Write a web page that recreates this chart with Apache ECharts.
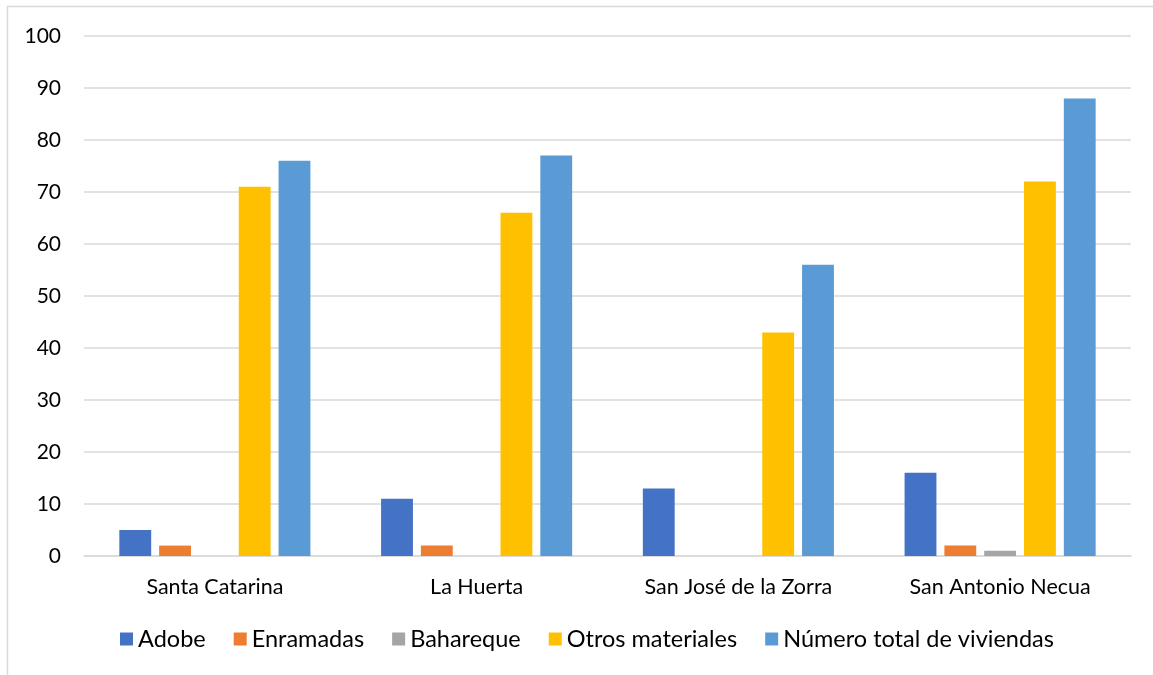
<!DOCTYPE html>
<html lang="es">
<head>
    <meta charset="UTF-8">
    <title>Viviendas por material</title>
    <script type="text/javascript" src="https://cdn.jsdelivr.net/npm/echarts@6/dist/echarts.min.js"></script>
    <style>
        html, body { margin: 0; padding: 0; background: #fff; }
        #main { width: 1153px; height: 675px; }
    </style>
</head>
<body>
<div id="main"></div>
<script>
    // datos
    var localidades = ['Santa Catarina', 'La Huerta', 'San José de la Zorra', 'San Antonio Necua'];
    var adobe = [5, 11, 13, 16];
    var enramadas = [2, 2, 0, 2];
    var bahareque = [0, 0, 0, 1];
    var otros = [71, 66, 43, 72];
    var total = [76, 77, 56, 88];

    var fuente = 'Lato, "Open Sans", sans-serif';
    var myChart = echarts.init(document.getElementById('main'));

    function serie(nombre, datos, color) {
        return {
            name: nombre,
            type: 'bar',
            data: datos,
            barGap: '25%',
            barCategoryGap: '27%',
            itemStyle: { color: color },
            emphasis: { disabled: true }
        };
    }

    var option = {
        animation: false,
        textStyle: { fontFamily: fuente },
        graphic: [{
            type: 'rect',
            shape: { x: 7.5, y: 6.5, width: 1160, height: 700 },
            style: { fill: 'none', stroke: '#d9d9d9', lineWidth: 1.5 },
            silent: true
        }],
        grid: {       // area del grafico
            left: 84,
            right: 22,
            top: 36,
            bottom: 119
        },
        legend: {
            bottom: 19,
            left: 115,
            itemWidth: 13,
            itemHeight: 13,
            itemGap: 28,
            itemTextGap: 6,
            icon: 'rect',
            textStyle: { fontFamily: fuente, fontSize: 23.5, color: '#000' },
            data: ['Adobe', 'Enramadas', 'Bahareque', 'Otros materiales', 'Número total de viviendas']
        },
        xAxis: {
            type: 'category',
            data: localidades,
            axisTick: { show: false },
            axisLine: { lineStyle: { color: '#d9d9d9', width: 1.5 } },
            axisLabel: { fontSize: 21.5, color: '#000', margin: 20, fontFamily: fuente }
        },
        yAxis: {
            type: 'value',
            min: 0,
            max: 100,
            interval: 10,
            axisLine: { show: false },
            axisTick: { show: false },
            splitLine: { lineStyle: { color: '#d9d9d9', width: 1.5 } },
            axisLabel: { fontSize: 21, color: '#000', margin: 23, fontFamily: fuente }
        },
        series: [
            serie('Adobe', adobe, '#4472C4'),
            serie('Enramadas', enramadas, '#ED7D31'),
            serie('Bahareque', bahareque, '#A5A5A5'),
            serie('Otros materiales', otros, '#FFC000'),
            serie('Número total de viviendas', total, '#5B9BD5')
        ]
    };
    myChart.setOption(option);
</script>
</body>
</html>
